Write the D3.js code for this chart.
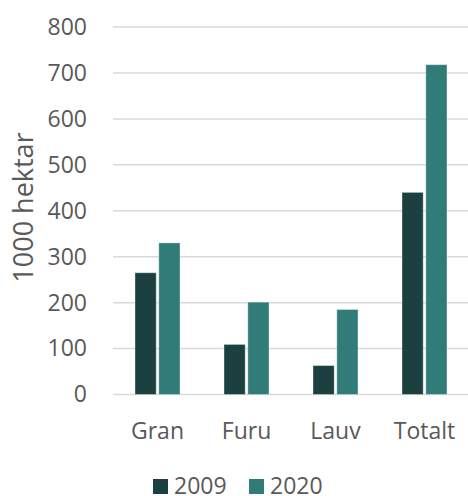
<!DOCTYPE html>
<html>
<head>
<meta charset="utf-8">
<script src="https://cdn.jsdelivr.net/npm/d3@7"></script>
<style>
  html, body { margin: 0; padding: 0; background: #fff; }
  svg { display: block; font-family: "Open Sans", sans-serif; }
</style>
</head>
<body>
<svg id="chart" width="468" height="496"></svg>
<script>
// Skogareal etter treslag, 1000 hektar
const categories = ["Gran", "Furu", "Lauv", "Totalt"];
const seriesNames = ["2009", "2020"];
const values2009 = [265, 109, 63, 440];
const values2020 = [330, 201, 185, 718];
const yTicks = [0, 100, 200, 300, 400, 500, 600, 700, 800];
const colors = ["#1b403f", "#317b78"];
const textColor = "#595959";
const fontSize = 23;

const svg = d3.select("#chart");
const margin = { top: 27, right: 0, bottom: 101, left: 113 };
const width = 469 - margin.left - margin.right;
const height = 496 - margin.top - margin.bottom - 0.5;

const g = svg.append("g").attr("transform", `translate(${margin.left},${margin.top})`);

const x = d3.scaleBand().domain(categories).range([0, width]).paddingInner(0).paddingOuter(0);
const xInner = d3.scaleBand().domain(seriesNames).range([22, 67]).paddingInner(0.11);
const y = d3.scaleLinear().domain([0, 800]).range([height, 0]);

// Gridlines
g.append("g")
  .selectAll("line")
  .data(yTicks)
  .join("line")
  .attr("x1", 0)
  .attr("x2", width)
  .attr("y1", d => y(d))
  .attr("y2", d => y(d))
  .attr("stroke", "#d9d9d9")
  .attr("stroke-width", 1.5);

// Y axis labels
const yAxis = d3.axisLeft(y).tickValues(yTicks).tickSize(0).tickPadding(26);
g.append("g")
  .call(yAxis)
  .call(a => a.select(".domain").remove())
  .selectAll("text")
  .attr("fill", textColor)
  .attr("font-size", fontSize)
  .attr("font-family", "Open Sans, sans-serif");

// X axis labels
const xAxis = d3.axisBottom(x).tickSize(0).tickPadding(28);
g.append("g")
  .attr("transform", `translate(0,${height})`)
  .call(xAxis)
  .call(a => a.select(".domain").remove())
  .selectAll("text")
  .attr("fill", textColor)
  .attr("font-size", fontSize)
  .attr("font-family", "Open Sans, sans-serif");

// Bars
const rows = categories.map((c, i) => ({ cat: c, vals: [values2009[i], values2020[i]] }));
const groups = g.append("g")
  .selectAll("g")
  .data(rows)
  .join("g")
  .attr("transform", d => `translate(${x(d.cat)},0)`);

groups.selectAll("rect")
  .data(d => d.vals.map((v, j) => ({ key: seriesNames[j], v, j })))
  .join("rect")
  .attr("x", d => xInner(d.key))
  .attr("width", xInner.bandwidth())
  .attr("y", d => y(d.v))
  .attr("height", d => y(0) - y(d.v))
  .attr("fill", d => colors[d.j])
  .attr("stroke", "rgba(255,255,255,0.35)")
  .attr("stroke-width", 1);

// Y axis title
svg.append("text")
  .attr("transform", `translate(33,${207.5}) rotate(-90)`)
  .attr("text-anchor", "middle")
  .attr("fill", textColor)
  .attr("font-size", 27)
  .text("1000 hektar");

// Legend
const legend = svg.append("g").attr("transform", "translate(153,479)");
const items = legend.selectAll("g")
  .data(seriesNames)
  .join("g")
  .attr("transform", (d, i) => `translate(${i * 96},0)`);
items.append("rect")
  .attr("width", 15)
  .attr("height", 15)
  .attr("fill", (d, i) => colors[i]);
items.append("text")
  .attr("x", 21)
  .attr("y", 14.5)
  .attr("fill", textColor)
  .attr("font-size", fontSize)
  .text(d => d);
</script>
</body>
</html>
